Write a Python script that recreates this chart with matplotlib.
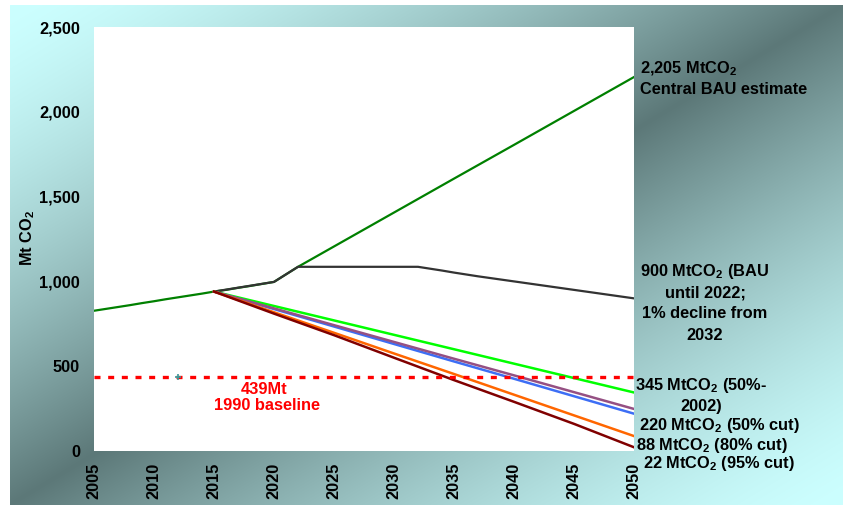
import numpy as np
import matplotlib
matplotlib.use("Agg")
import matplotlib.pyplot as plt
from matplotlib.ticker import FuncFormatter

plt.rcParams['font.family'] = ['Liberation Sans', 'DejaVu Sans']
plt.rcParams['font.weight'] = 'bold'
plt.rcParams['mathtext.fontset'] = 'custom'
plt.rcParams['mathtext.rm'] = 'Liberation Sans:bold'
plt.rcParams['mathtext.bf'] = 'Liberation Sans:bold'
plt.rcParams['mathtext.it'] = 'Liberation Sans:bold'

# Central business-as-usual estimate (MtCO2)
bau_years = [2005, 2006, 2007, 2008, 2009, 2010, 2011, 2012, 2013, 2014, 2015,
             2016, 2017, 2018, 2019, 2020, 2022, 2025, 2030, 2035, 2040, 2045, 2050]
bau_values = [827, 838, 849, 860, 872, 883, 895, 906, 917, 928, 940,
              950, 962, 973, 985, 997, 1086, 1206, 1406, 1606, 1805, 2005, 2205]

# BAU until 2022, flat, then 1% decline from 2032
capped_years = [2015, 2020, 2022, 2032, 2033, 2034, 2035, 2036, 2037, 2038, 2039,
                2040, 2041, 2042, 2043, 2044, 2045, 2046, 2047, 2048, 2049, 2050]
capped_values = [940, 997, 1086, 1086, 1075, 1064, 1052, 1041, 1030, 1020, 1010,
                 1000, 990, 980, 970, 960, 950, 940, 930, 920, 910, 900]

# Reduction pathways from 2015
cut_years = [2015, 2020, 2025, 2030, 2035, 2040, 2045, 2050]
cut_50_2002 = [940, 855, 770, 685, 600, 515, 430, 345]
cut_purple = [940, 841, 742, 643, 544, 446, 347, 248]
cut_50 = [940, 837, 734, 631, 528, 426, 323, 220]
cut_80 = [940, 818, 697, 575, 454, 332, 210, 88]
cut_95 = [940, 810, 683, 550, 418, 290, 160, 22]

baseline_1990 = 439
marker_year = [2012]
marker_value = [439]

x_ticks = list(range(2005, 2051, 5))
y_ticks = [0, 500, 1000, 1500, 2000, 2500]

W, H = 843, 505
fig = plt.figure(figsize=(W / 100, H / 100), dpi=100)

# diagonal background gradient
bg = fig.add_axes([10 / W, 0, (W - 10) / W, 500 / H], zorder=-10)
gh, gw = 500, W - 10
u = np.linspace(0, 1, gw)[None, :]
v = np.linspace(0, 1, gh)[:, None]
d = 1 - np.abs(u + v - 1)
d = np.clip(d, 0, 1) ** 1.5
light = np.array([204, 255, 255]) / 255
dark = np.array([92, 120, 120]) / 255
img = light[None, None, :] + (dark - light)[None, None, :] * d[:, :, None]
bg.imshow(img, aspect='auto', interpolation='bilinear')
bg.axis('off')

ax = fig.add_axes([94 / W, 54 / H, 540 / W, 424 / H])
ax.set_facecolor('white')
for s in ax.spines.values():
    s.set_visible(False)

fs = 11.8
ax.plot(bau_years, bau_values, color='#008000', lw=1.6, zorder=3)
ax.plot(capped_years, capped_values, color='#333333', lw=1.6, zorder=4)
ax.plot(cut_years, cut_50_2002, color='#00FF00', lw=1.8, zorder=5)
ax.plot(cut_years, cut_50, color='#3D6EF5', lw=1.8, zorder=5)
ax.plot(cut_years, cut_purple, color='#955083', lw=1.8, zorder=6)
ax.plot(cut_years, cut_80, color='#FF6600', lw=1.8, zorder=6)
ax.plot(cut_years, cut_95, color='#800000', lw=1.8, zorder=7)
ax.axhline(baseline_1990, color='#FF0000', lw=2.4, dashes=(1.8, 2.3), zorder=8)
ax.plot(marker_year, marker_value, marker='+', color='#3C9A9A', ms=5, mew=1.2,
        ls='none', zorder=9)

ax.set_xlim(2005, 2050)
ax.set_ylim(0, 2500)
ax.set_xticks(x_ticks)
ax.set_yticks(y_ticks)
ax.yaxis.set_major_formatter(FuncFormatter(lambda val, p: f"{int(val):,}"))
ax.tick_params(axis='both', length=0, labelsize=fs)
ax.tick_params(axis='x', pad=8.6, labelrotation=90)
ax.tick_params(axis='y', pad=10)
for lab in ax.get_xticklabels() + ax.get_yticklabels():
    lab.set_fontweight('bold')

CO2 = r"CO$_\mathregular{2}$"

fig.text(27.5 / W, 1 - 237.5 / H, "Mt " + CO2, rotation=90, ha='center',
         va='center', fontsize=fs, fontweight='bold')


def px_to_data(px, py):
    return 2005 + (px - 94) / 12.0, (451 - py) * 2500 / 424.0


def label(px, py, text, ha='center', color='black'):
    x, y = px_to_data(px, py)
    ax.text(x, y, text, ha=ha, va='center_baseline', fontsize=fs,
            fontweight='bold', color=color, clip_on=False, zorder=10)


label(640, 66, "2,205 Mt" + CO2, ha='left')
label(640, 88, "Central BAU estimate", ha='left')
label(705, 269, "900 Mt" + CO2 + " (BAU")
label(705, 291, "until 2022;")
label(705, 312.5, "1% decline from")
label(705, 334, "2032")
label(701.5, 383, "345 Mt" + CO2 + " (50%-")
label(701, 405, "2002)")
label(719.5, 423, "220 Mt" + CO2 + " (50% cut)")
label(711.5, 443, "88 Mt" + CO2 + " (80% cut)")
label(719, 461, "22 Mt" + CO2 + " (95% cut)")
label(264, 388, "439Mt", color='#FF0000')
label(267, 404, "1990 baseline", color='#FF0000')

fig.savefig('out.png', dpi=100)
